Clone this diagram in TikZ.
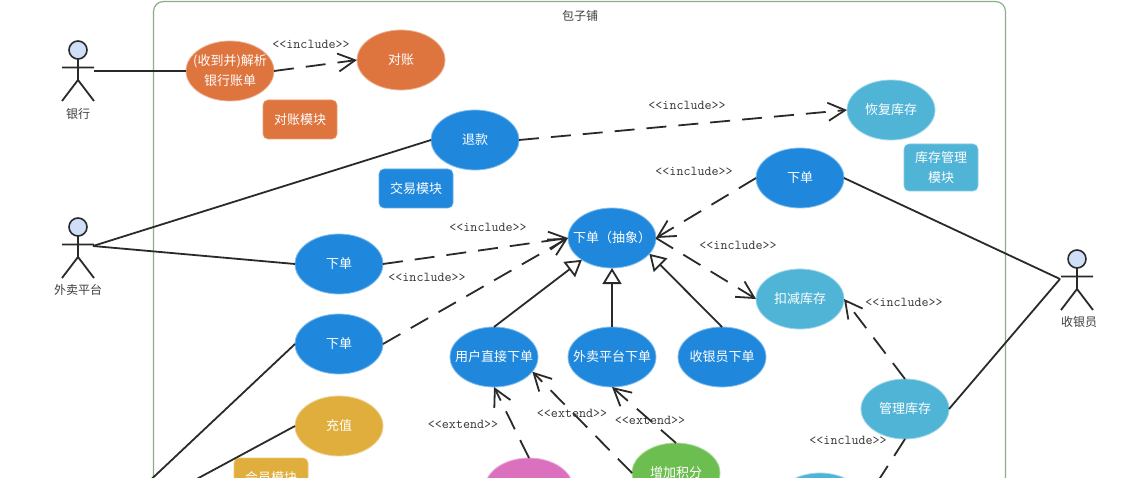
\documentclass[tikz,border=0pt]{standalone}
\usepackage{fontspec}
\setmainfont{Noto Sans CJK SC}
\usetikzlibrary{shapes.geometric,arrows.meta}
\definecolor{cOrange}{HTML}{DE743E}
\definecolor{cBlue}{HTML}{2088DC}
\definecolor{cTeal}{HTML}{50B4D6}
\definecolor{cGold}{HTML}{E0AE3C}
\definecolor{cPink}{HTML}{DA70BE}
\definecolor{cGreen}{HTML}{6CBE50}
\definecolor{cFrame}{HTML}{8FAD8A}
\definecolor{cLine}{HTML}{2A2A2A}
\definecolor{cHead}{HTML}{CFDFF7}
\newcommand{\nw}[1]{\makebox[0pt][c]{\raisebox{-0.8pt}{#1}}}
\tikzset{
  uc/.style={ellipse,minimum width=88pt,minimum height=60pt,inner sep=0pt,outer sep=0pt,
    fill=#1,draw=#1!55!white,line width=0.8pt,text=white,align=center,
    font=\fontsize{13}{20}\selectfont},
  mod/.style={rectangle,rounded corners=5pt,minimum width=74pt,minimum height=39pt,inner sep=0pt,
    outer sep=0pt,fill=#1,draw=#1!70!white,line width=0.6pt,text=white,align=center,
    font=\fontsize{13}{20}\selectfont},
  assoc/.style={draw=cLine,line width=1.8pt},
  dep/.style={draw=cLine,line width=1.8pt,dash pattern=on 20pt off 12pt,
    -{Straight Barb[length=17pt,width=18pt,line width=1.8pt]}},
  gen/.style={draw=cLine,line width=1.8pt,
    -{Triangle[open,length=16pt,width=19pt,line width=1.8pt,fill=white]}},
  stereo/.style={font=\ttfamily\fontsize{13.6}{15}\selectfont,text=black!80,inner sep=0pt,yshift=1pt},
  plain/.style={font=\fontsize{12}{14}\selectfont,text=black!75,inner sep=0pt},
  actorfig/.pic={
    \draw[draw=cLine,line width=1.8pt] (0,9)--(0,30) (-16,17.5)--(16,17.5) (-16,51)--(0,30)--(16,51);
    \node[circle,draw=cLine,fill=cHead,line width=1.6pt,minimum size=18pt,inner sep=0pt] (-head) at (0,0) {};
  }
}
\begin{document}
\begin{tikzpicture}[x=1pt,y=-1pt]
\path[use as bounding box,clip] (0,0) rectangle (1123,478);
\fill[white] (0,0) rectangle (1123,478);
\draw[cFrame,line width=1.2pt,rounded corners=10pt] (153.5,1.5) rectangle (1005.5,600);
\node[plain] (title) at (580,16) {包子铺};

\pic (bankfig) at (78,50) {actorfig};
\pic (platfig) at (78,227) {actorfig};
\pic (cashfig) at (1077,259) {actorfig};
\node[plain] (banklabel) at (78,114) {银行};
\node[plain] (platlabel) at (78,290) {外卖平台};
\node[plain] (cashlabel) at (1079,322) {收银员};
\coordinate (bank) at (94,71);
\coordinate (plat) at (93,246);
\coordinate (cash) at (1060,279);
\coordinate (lower) at (91,536);

\node[uc=cOrange] (parse) at (230,71) {\nw{(收到并)解析}\\\nw{银行账单}};
\node[uc=cOrange] (recon) at (401,60) {\nw{对账}};
\node[mod=cOrange] (mrecon) at (300,119.5) {对账模块};
\node[uc=cBlue] (refund) at (475,140) {\nw{退款}};
\node[mod=cBlue] (mtrade) at (416,188.5) {交易模块};
\node[uc=cTeal] (restore) at (891,110) {\nw{恢复库存}};
\node[mod=cTeal,minimum height=47pt] (mstock) at (941,167.5) {库存管理\\模块};
\node[uc=cBlue] (ordertop) at (800,178) {\nw{下单}};
\node[uc=cBlue] (abs) at (612,238) {\nw{下单（抽象）}};
\node[uc=cBlue] (orderplat) at (339,264) {\nw{下单}};
\node[uc=cBlue] (orderuser) at (339,344) {\nw{下单}};
\node[uc=cGold] (charge) at (339,426) {\nw{充值}};
\node[mod=cGold] (mmember) at (271,477.5) {会员模块};
\node[uc=cBlue] (direct) at (494,357) {\nw{用户直接下单}};
\node[uc=cBlue] (viaplat) at (612,357) {\nw{外卖平台下单}};
\node[uc=cBlue] (viacash) at (722,357) {\nw{收银员下单}};
\node[uc=cTeal] (deduct) at (800,299) {\nw{扣减库存}};
\node[uc=cTeal] (manage) at (905,409) {\nw{管理库存}};
\node[uc=cGreen] (points) at (676,473) {\nw{增加积分}};
\node[uc=cPink] (pinkcase) at (529,488) {};
\node[uc=cTeal] (stockcase) at (820,503) {};

\draw[assoc] (bank) -- (parse.west);
\draw[assoc] (plat) -- (refund.west);
\draw[assoc] (plat) -- (orderplat.west);
\draw[assoc] (lower) -- (orderuser.west);
\draw[assoc] (lower) -- (charge.west);
\draw[assoc] (ordertop.east) -- (cash);
\draw[assoc] (manage.east) -- (cash);

\draw[dep] (parse.east) -- (recon.west);
\draw[dep] (refund.east) -- (restore.west);
\draw[dep] (ordertop.west) -- (abs.east);
\draw[dep] (orderplat.east) -- (abs.west);
\draw[dep] (orderuser.east) -- (abs.west);
\draw[dep] (abs.east) -- (deduct.west);
\draw[dep] (manage.north) -- (deduct.east);
\draw[dep] (manage.south) -- (stockcase.east);
\draw[dep] (pinkcase.north) -- (direct.south);
\draw[dep] (points.west) -- (direct.-21);
\draw[dep] (points.north) -- (viaplat.south);

\draw[gen] (direct.north) -- (abs.216);
\draw[gen] (viaplat.north) -- (abs.south);
\draw[gen] (viacash.north) -- (abs.-23);

\node[stereo] (s1) at (311,45) {<{}<include>{}>};
\node[stereo] (s2) at (687,106) {<{}<include>{}>};
\node[stereo] (s3) at (694,172) {<{}<include>{}>};
\node[stereo] (s4) at (488,228) {<{}<include>{}>};
\node[stereo] (s5) at (427,278) {<{}<include>{}>};
\node[stereo] (s6) at (738,246) {<{}<include>{}>};
\node[stereo] (s7) at (904,303) {<{}<include>{}>};
\node[stereo] (s8) at (848,441) {<{}<include>{}>};
\node[stereo] (e1) at (463,425) {<{}<extend>{}>};
\node[stereo] (e2) at (572,414) {<{}<extend>{}>};
\node[stereo] (e3) at (650,421) {<{}<extend>{}>};
\end{tikzpicture}
\end{document}
